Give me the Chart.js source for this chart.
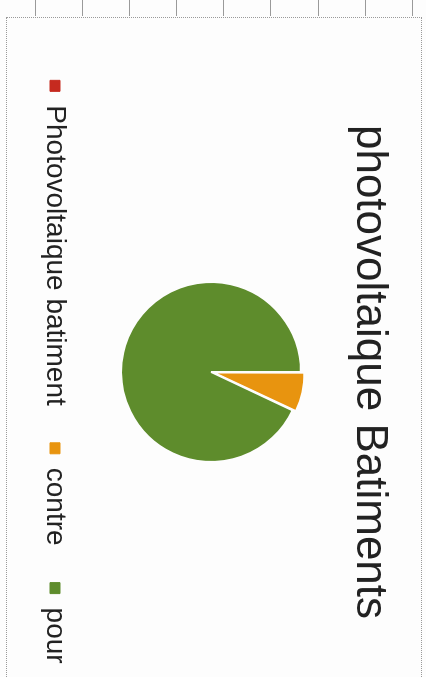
<!DOCTYPE html>
<html lang="fr">
<head>
  <meta charset="UTF-8" />
  <title>photovoltaique Batiments</title>
  <script src="https://cdn.jsdelivr.net/npm/chart.js@4.4.0/dist/chart.umd.min.js"></script>
  <style>
    * { box-sizing: border-box; }
    html, body {
      margin: 0;
      width: 426px;
      height: 677px;
      overflow: hidden;
      background: #fdfdfd;
      font-family: "Liberation Sans", Arial, sans-serif;
    }
    /* petits traits de grille au-dessus du cadre (scan) */
    .ticks {
      position: absolute;
      left: 35px; top: 0;
      width: 380px; height: 16px;
      background: repeating-linear-gradient(90deg, #9a9a9a 0 1px, transparent 1px 47.1px);
    }
    /* cadre en pointillés */
    .cadre {
      position: absolute;
      left: 6px; top: 17px;
      width: 416px; height: 700px;
      border: 1px dotted #9a9a9a;
    }
    /* graphique tourné de 90° (page scannée de travers) */
    .chart-box {
      position: absolute;
      left: 421px; top: 17px;
      width: 700px; height: 415px;
      transform-origin: 0 0;
      transform: rotate(90deg);
    }
  </style>
</head>
<body>
  <div class="ticks"></div>
  <div class="cadre"></div>
  <div class="chart-box">
    <canvas id="camembert"></canvas>
  </div>

  <script>
    /* ---- données (%) ---- */
    var categories = ["Photovoltaique batiment", "contre", "pour"];
    var valeurs    = [0, 7, 93];

    var couleurs   = ["#c62a1f", "#e8940f", "#5e8c2c"];

    var ctx = document.getElementById("camembert").getContext("2d");

    /* légende : carrés pleins, sans le liseré blanc des parts */
    var etiquettesDefaut = Chart.controllers.pie.overrides.plugins.legend.labels.generateLabels;

    new Chart(ctx, {
      type: "pie",
      data: {
        labels: categories,
        datasets: [{
          data: valeurs,
          backgroundColor: couleurs,
          borderColor: "#fdfdfd",
          borderWidth: 2,
          offset: [0, 9, 0]
        }]
      },
      options: {
        responsive: true,
        maintainAspectRatio: false,
        animation: false,
        radius: 90,
        layout: { padding: { left: 10, right: 0, top: 0, bottom: 25 } },
        plugins: {
          title: {
            display: true,
            text: "photovoltaique Batiments",
            color: "#222",
            font: { family: "'Liberation Sans', Arial, sans-serif", size: 44, weight: "normal" },
            padding: { top: 25, bottom: 27 }
          },
          legend: {
            position: "bottom",
            labels: {
              color: "#222",
              font: { family: "'Liberation Sans', Arial, sans-serif", size: 28 },
              boxWidth: 11,
              boxHeight: 10,
              padding: 37,
              generateLabels: function (chart) {
                return etiquettesDefaut(chart).map(function (l) {
                  l.strokeStyle = l.fillStyle;
                  l.lineWidth = 1;
                  return l;
                });
              }
            }
          },
          tooltip: { enabled: false }
        }
      }
    });
  </script>
</body>
</html>
